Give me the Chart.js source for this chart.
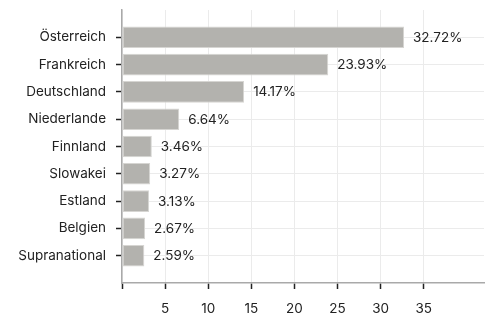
<!DOCTYPE html>
<html>
<head>
<meta charset="utf-8">
<script src="https://cdn.jsdelivr.net/npm/chart.js@4"></script>
<style>
  html, body { margin: 0; padding: 0; background: #fff; }
  #wrap { width: 489px; height: 315px; }
</style>
</head>
<body>
<div id="wrap"><canvas id="countryChart"></canvas></div>
<script>
// Länder und Anteile (%)
const countries = ['Österreich', 'Frankreich', 'Deutschland', 'Niederlande', 'Finnland', 'Slowakei', 'Estland', 'Belgien', 'Supranational'];
const shares = [32.72, 23.93, 14.17, 6.64, 3.46, 3.27, 3.13, 2.67, 2.59];
const xTicks = [5, 10, 15, 20, 25, 30, 35];

const textColor = '#222';
const font = { family: 'Inter', size: 13.5 };

// value labels right of each bar
const valueLabels = {
  id: 'valueLabels',
  afterDatasetsDraw(chart) {
    const ctx = chart.ctx;
    const meta = chart.getDatasetMeta(0);
    ctx.save();
    ctx.font = '13.5px Inter';
    ctx.fillStyle = textColor;
    ctx.textBaseline = 'middle';
    ctx.textAlign = 'left';
    meta.data.forEach((bar, i) => {
      ctx.fillText(shares[i].toFixed(2) + '%', bar.x + 9, bar.y + 0.5);
    });
    ctx.restore();
  }
};

new Chart(document.getElementById('countryChart'), {
  type: 'bar',
  data: {
    datasets: [{
      data: shares.map((v, i) => ({ x: v, y: i })),
      backgroundColor: '#b3b2ae',
      borderColor: '#d6d5d2',
      borderWidth: 1,
      borderSkipped: false,
      categoryPercentage: 1,
      barPercentage: 0.79
    }]
  },
  options: {
    indexAxis: 'y',
    responsive: true,
    maintainAspectRatio: false,
    animation: false,
    layout: { padding: { top: 10, right: 5, left: 0, bottom: 0 } },
    plugins: {
      legend: { display: false },
      tooltip: { enabled: false }
    },
    scales: {
      x: {
        type: 'linear',
        min: 0,
        max: 42,
        afterBuildTicks: scale => {
          scale.ticks = scale.ticks.filter(t => t.value % 5 === 0);
        },
        afterFit: scale => {
          scale.height = 32;
          scale.paddingLeft = 0;
          scale.paddingRight = 0;
        },
        ticks: {
          stepSize: 5,
          color: textColor,
          font: font,
          padding: 12,
          maxRotation: 0,
          autoSkip: false,
          callback: v => xTicks.includes(v) ? String(v) : ''
        },
        grid: {
          color: '#ebebeb',
          tickLength: 6,
          tickWidth: 1.5,
          tickColor: c => (c.tick && c.tick.value <= 35) ? textColor : 'rgba(0,0,0,0)'
        },
        border: { color: '#a9a9a9', width: 1.5 }
      },
      y: {
        type: 'linear',
        min: -1,
        max: 9,
        reverse: true,
        offset: false,
        afterBuildTicks: scale => {
          scale.ticks = [];
          for (let i = -1; i <= 9; i++) scale.ticks.push({ value: i });
        },
        afterFit: scale => {
          scale.width = 122;
          scale.paddingTop = 0;
          scale.paddingBottom = 0;
        },
        ticks: {
          stepSize: 1,
          color: textColor,
          font: font,
          padding: 10,
          autoSkip: false,
          callback: v => countries[v] !== undefined ? countries[v] : ''
        },
        grid: {
          offset: false,
          color: c => (c.tick && countries[c.tick.value] !== undefined) ? '#ebebeb' : 'rgba(0,0,0,0)',
          tickLength: 6,
          tickWidth: 1.5,
          tickColor: c => (c.tick && countries[c.tick.value] !== undefined) ? textColor : 'rgba(0,0,0,0)'
        },
        border: { color: '#a9a9a9', width: 1.5 }
      }
    }
  },
  plugins: [valueLabels]
});
</script>
</body>
</html>
